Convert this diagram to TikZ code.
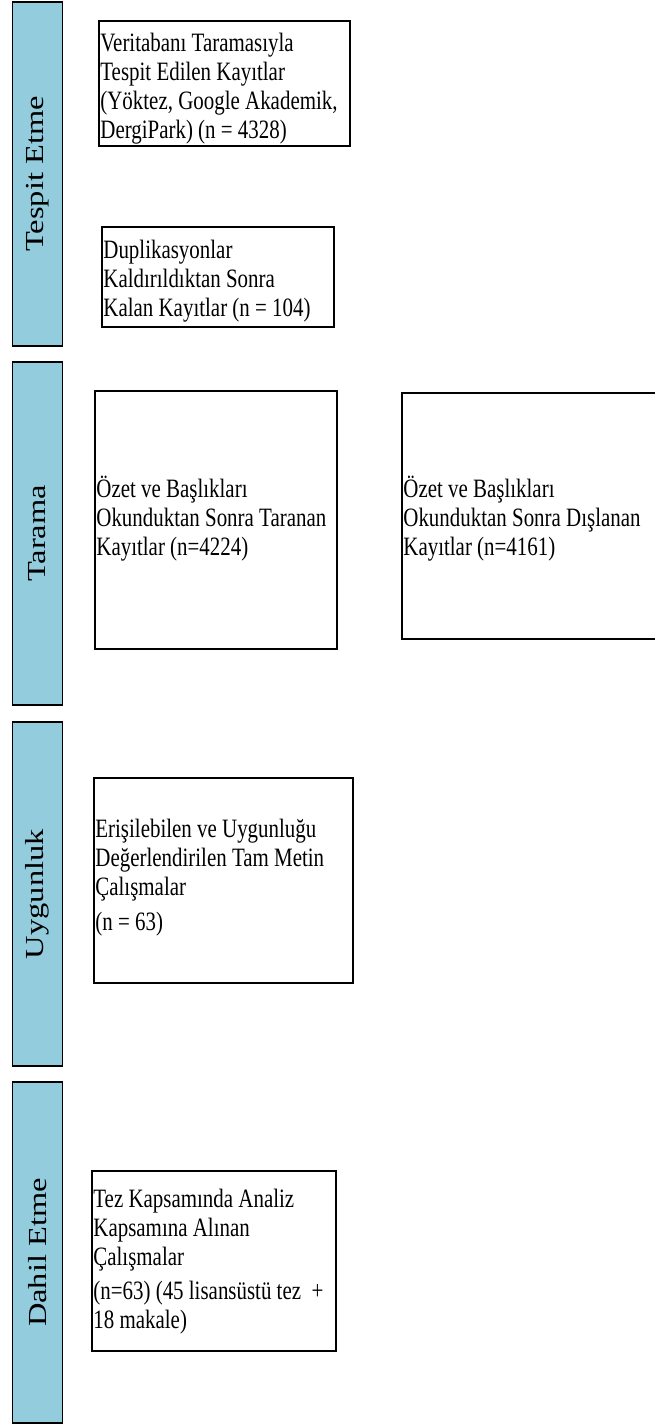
\documentclass[tikz,border=0pt]{standalone}
\usepackage{fontspec}
\setmainfont[FakeStretch=0.79]{Liberation Serif}
\newfontfamily\lblfont[FakeStretch=1.25]{Liberation Serif}
\definecolor{barblue}{RGB}{147,205,221}
% text block: width, height, first-line offset, content
\newcommand{\tblock}[4]{\parbox[t][#2pt][t]{\dimexpr#1pt-3pt\relax}{\fontsize{26.5}{28.7}\selectfont\lineskiplimit=-100pt\raggedright\rule{0pt}{#3pt}#4}}
\begin{document}
\begin{tikzpicture}[x=1pt,y=-1pt,
  phasebar/.style={draw=black, line width=1.8pt, fill=barblue, rotate=90, inner sep=0pt,
    minimum height=50pt, font=\lblfont\fontsize{26}{28}\selectfont},
  recbox/.style={draw=black, line width=1.8pt, anchor=north west, inner xsep=1.5pt, inner ysep=0pt}]
\useasboundingbox (0,0) rectangle (655,1425);
\clip (0,0) rectangle (655,1425);

% phase bars
\node[phasebar, minimum width=344pt] (p1) at (37.5,174) {Tespit Etme};
\node[phasebar, minimum width=343pt] (p2) at (37.5,533.5) {Tarama};
\node[phasebar, minimum width=344pt] (p3) at (37.5,894) {Uygunluk};
\node[phasebar, minimum width=341pt] (p4) at (37.5,1252.5) {Dahil Etme};

% record boxes
\node[recbox] (b1) at (98,20) {\tblock{251}{125}{31}{Veritabanı Taramasıyla\\Tespit Edilen Kayıtlar\\(Yöktez, Google Akademik,\\DergiPark) (n = 4328)}};
\node[recbox] (b2) at (101,226) {\tblock{232}{100}{32}{Duplikasyonlar\\Kaldırıldıktan Sonra\\Kalan Kayıtlar (n = 104)}};
\node[recbox] (b3) at (94,390) {\tblock{242}{258}{107}{Özet ve Başlıkları\\Okunduktan Sonra Taranan\\Kayıtlar (n=4224)}};
\node[recbox] (b3x) at (401,392) {\tblock{275}{246}{105}{Özet ve Başlıkları\\Okunduktan Sonra Dışlanan\\Kayıtlar (n=4161)}};
\node[recbox] (b4) at (93,777) {\tblock{259}{205}{60}{Erişilebilen ve Uygunluğu\\Değerlendirilen Tam Metin\\Çalışmalar\\[6pt](n = 63)}};
\node[recbox] (b5) at (91,1170) {\tblock{244}{180}{37}{Tez Kapsamında Analiz\\Kapsamına Alınan\\Çalışmalar\\[5.5pt](n=63) (45 lisansüstü tez \ +\\18 makale)}};
\end{tikzpicture}
\end{document}
